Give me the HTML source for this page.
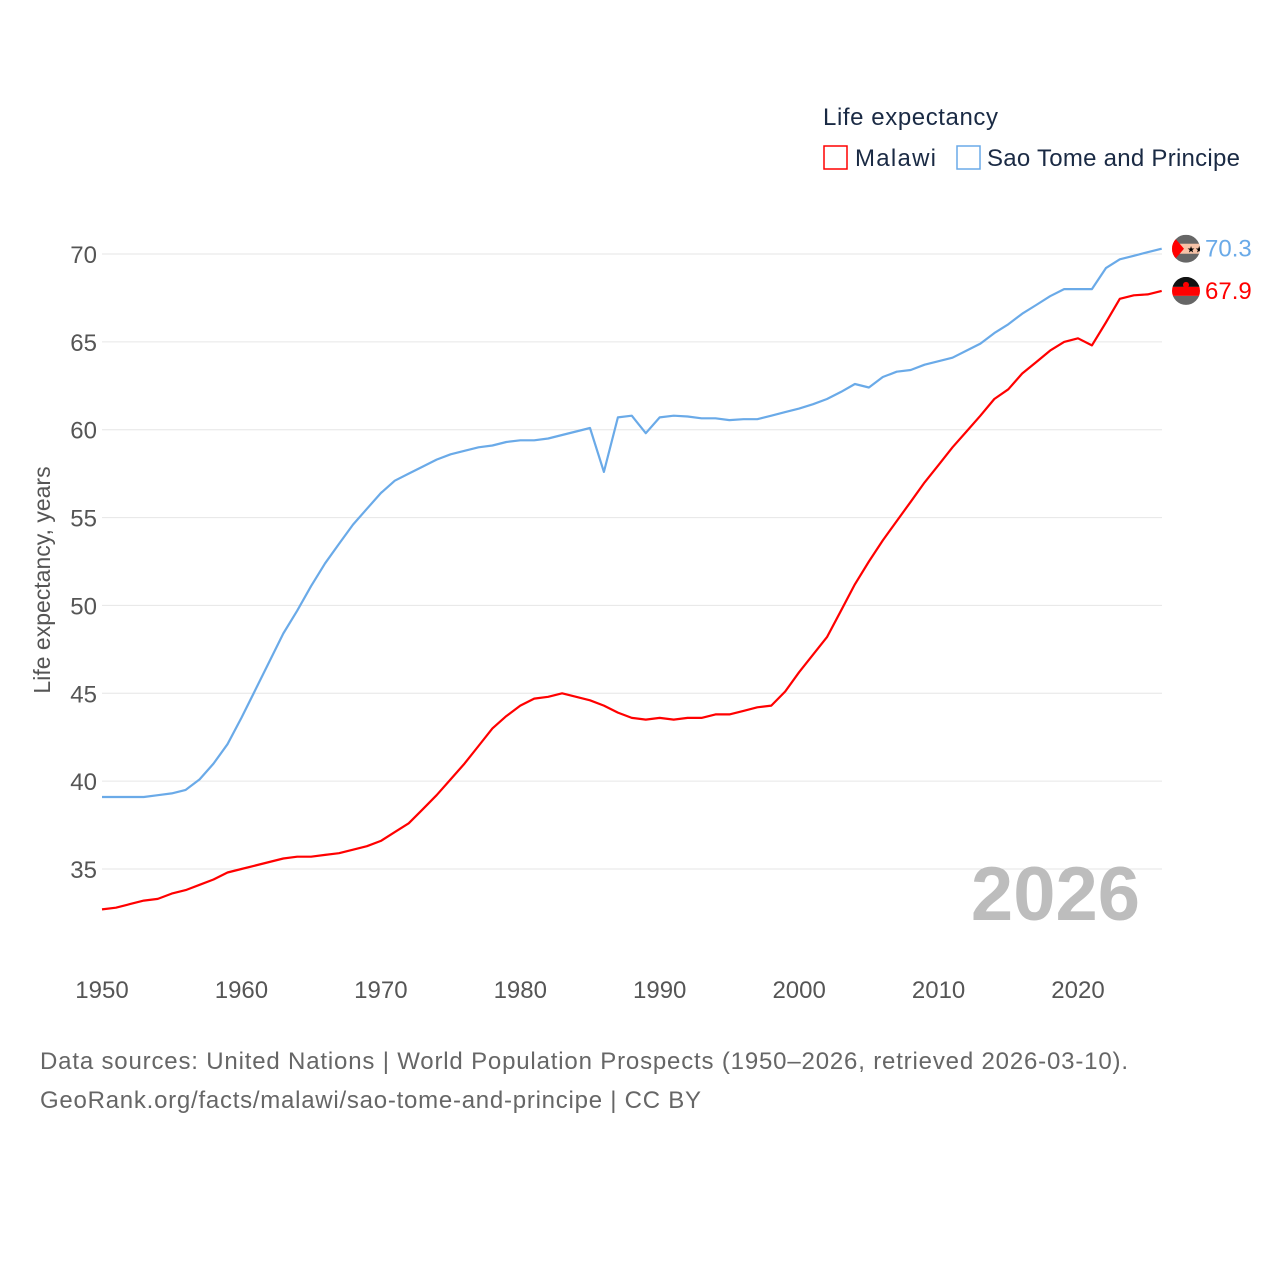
<!DOCTYPE html>
<html><head><meta charset="utf-8"><style>
body{margin:0;background:#fff;width:1280px;height:1280px;overflow:hidden;font-family:"Liberation Sans",sans-serif}
</style></head><body>
<svg width="1280" height="1280" xmlns="http://www.w3.org/2000/svg">
<g id="grid"></g>
<g id="yticks"></g>
<g id="xticks"></g>
<text transform="translate(50,580) rotate(-90)" text-anchor="middle" font-size="23" fill="#555">Life expectancy, years</text>
<text x="1140" y="920" text-anchor="end" font-size="76" font-weight="bold" fill="#bdbdbd">2026</text>
<g id="lines"></g>
<g>
<text x="823" y="125" font-size="24" fill="#1a2a44" textLength="175">Life expectancy</text>
<rect x="824" y="146" width="23" height="23" fill="none" stroke="#f00" stroke-width="1.5"/>
<text x="855" y="166" font-size="24" fill="#1a2a44" textLength="81">Malawi</text>
<rect x="957" y="146" width="23" height="23" fill="none" stroke="#6aaae8" stroke-width="1.5"/>
<text x="987" y="166" font-size="24" fill="#1a2a44" textLength="253">Sao Tome and Principe</text>
</g>
<g font-size="24" fill="#666">
<text x="40" y="1069" textLength="1088">Data sources: United Nations | World Population Prospects (1950–2026, retrieved 2026-03-10).</text>
<text x="40" y="1108" textLength="661">GeoRank.org/facts/malawi/sao-tome-and-principe | CC BY</text>
</g>
<g id="ends"></g>
</svg>
<script>
const years = [];
for (let y = 1950; y <= 2026; y++) years.push(y);
const malawi = [32.7,32.8,33.0,33.2,33.3,33.6,33.8,34.1,34.4,34.8,
35.0,35.2,35.4,35.6,35.7,35.7,35.8,35.9,36.1,36.3,
36.6,37.1,37.6,38.4,39.2,40.1,41.0,42.0,43.0,43.7,
44.3,44.7,44.8,45.0,44.8,44.6,44.3,43.9,43.6,43.5,
43.6,43.5,43.6,43.6,43.8,43.8,44.0,44.2,44.3,45.1,
46.2,47.2,48.2,49.7,51.2,52.5,53.7,54.8,55.9,57.0,
58.0,59.0,59.9,60.8,61.75,62.3,63.2,63.85,64.5,65.0,
65.2,64.8,66.1,67.45,67.65,67.7,67.9];
const saoTome = [39.1,39.1,39.1,39.1,39.2,39.3,39.5,40.1,41.0,42.1,43.6,45.2,46.8,48.4,49.7,51.1,52.4,53.5,54.6,55.5,56.4,57.1,57.5,57.9,58.3,58.6,58.8,59.0,59.1,59.3,59.4,59.4,59.5,59.7,59.9,60.1,57.6,60.7,60.8,59.8,60.7,60.8,60.75,60.65,60.65,60.55,60.6,60.6,60.8,61.0,61.2,61.45,61.75,62.15,62.6,62.4,63.0,63.3,63.4,63.7,63.9,64.1,64.5,64.9,65.5,66.0,66.6,67.1,67.6,68.0,68.0,68.0,69.2,69.7,69.9,70.1,70.3];
const yTicks = [35,40,45,50,55,60,65,70];
const xTicks = [1950,1960,1970,1980,1990,2000,2010,2020];
const X = yr => 102 + (yr - 1950) * (976 / 70);
const Y = v => 254 + (70 - v) * (615 / 35);
const NS = "http://www.w3.org/2000/svg";
function mk(tag, attrs, parent, txt){const e=document.createElementNS(NS,tag);for(const k in attrs)e.setAttribute(k,attrs[k]);if(txt!=null)e.textContent=txt;parent.appendChild(e);return e;}
const grid=document.getElementById('grid'), yt=document.getElementById('yticks'), xt=document.getElementById('xticks');
yTicks.forEach(v=>{
  const l=mk('line',{x1:102,x2:1162,y1:Y(v),y2:Y(v),stroke:'#e6e6e6','stroke-width':1},grid);
  
  
  const t=mk('text',{x:97,y:Y(v)+9,'text-anchor':'end','font-size':24,fill:'#555'},yt,String(v));
  
  
});
xTicks.forEach(v=>{
  const t=mk('text',{x:X(v),y:998,'text-anchor':'middle','font-size':24,fill:'#555'},xt,String(v));
  
  
});
const lines=document.getElementById('lines');
function path(vals,color,name){
  const d=vals.map((v,i)=>(i?'L':'M')+X(years[i]).toFixed(1)+','+Y(v).toFixed(1)).join(' ');
  const p=mk('path',{d:d,fill:'none',stroke:color,'stroke-width':2.2,'stroke-linejoin':'round'},lines);
  
  
}
path(saoTome,'#6aaae8','line-sao-tome');
path(malawi,'#f00','line-malawi');
const ends=document.getElementById('ends');
function endLabel(vals,color,name,flag){
  const v=vals[vals.length-1], cy=Y(v), cx=1186;
  const g=mk('g',{},ends);
  
  
  mk('clipPath',{id:'c'+name},g);
  const cp=g.lastChild; mk('circle',{cx:cx,cy:cy,r:14},cp);
  const fg=mk('g',{'clip-path':'url(#c'+name+')'},g);
  flag(fg,cx,cy);
  const t=mk('text',{x:1205,y:cy+8,'font-size':24,fill:color},ends,v.toFixed(1));
  
  
}
endLabel(saoTome,'#6aaae8','sao-tome',(g,cx,cy)=>{
  mk('rect',{x:cx-14,y:cy-14,width:28,height:28,fill:'#666'},g);
  mk('rect',{x:cx-14,y:cy-5,width:28,height:10,fill:'#f7c3a8'},g);
  mk('polygon',{points:`${cx-14},${cy-14} ${cx-2},${cy} ${cx-14},${cy+14}`,fill:'#f00'},g);
  mk('text',{x:cx+1,y:cy+4,'font-size':9,fill:'#000'},g,'★★');
});
endLabel(malawi,'#f00','malawi',(g,cx,cy)=>{
  mk('rect',{x:cx-14,y:cy-14,width:28,height:10,fill:'#111'},g);
  mk('rect',{x:cx-14,y:cy-4,width:28,height:9,fill:'#f00'},g);
  mk('rect',{x:cx-14,y:cy+5,width:28,height:10,fill:'#666'},g);
  mk('circle',{cx:cx,cy:cy-6,r:3,fill:'#f00'},g);
});
</script>
</body></html>
